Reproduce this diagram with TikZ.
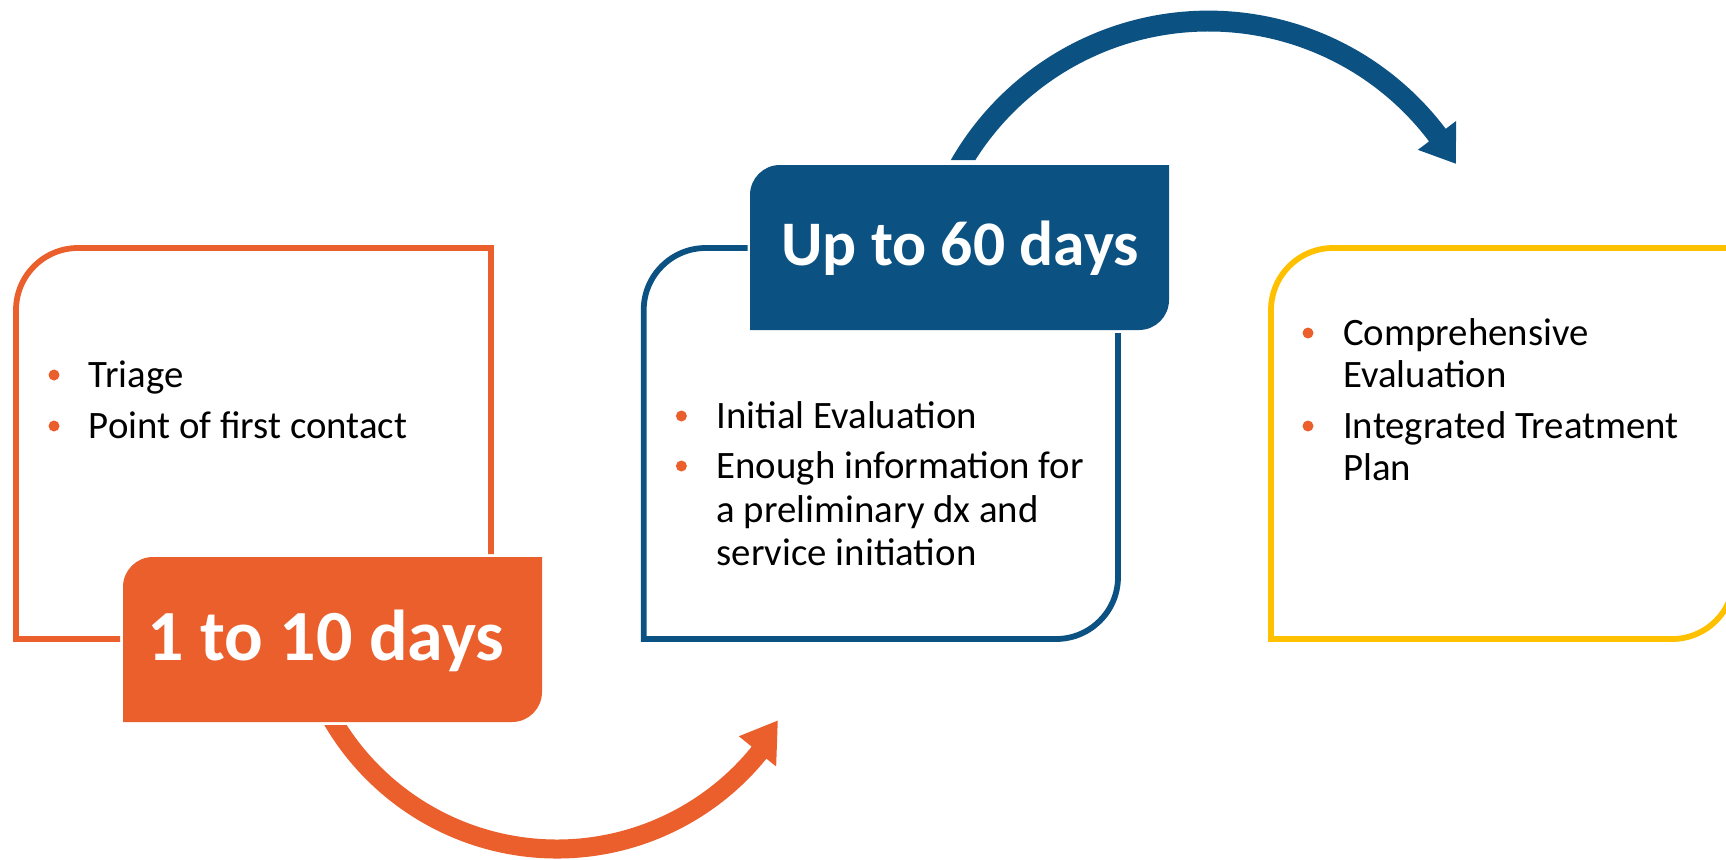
\documentclass[tikz,border=0pt]{standalone}
\usepackage{fontspec}
\setmainfont{Carlito}
\usetikzlibrary{calc}
\definecolor{orng}{RGB}{234,95,44}
\definecolor{navy}{RGB}{11,81,130}
\definecolor{gold}{RGB}{255,192,0}
\begin{document}
\begin{tikzpicture}[x=1pt,y=-1pt,
  body/.style={anchor=base west, inner sep=0pt, text=black,
    font=\fontsize{38.8}{43}\selectfont},
  tag/.style={anchor=base, inner sep=0pt, text=white,
    font=\bfseries\fontsize{#1}{#1}\selectfont},
  frame/.style={line width=5.8pt, line cap=butt, line join=miter},
  dot/.style={fill=orng}]
\useasboundingbox (0,0) rectangle (1726,859);
\clip (0,0) rectangle (1726,859);

% arc centres of the two curved arrows
\coordinate (oc) at (557,589);
\coordinate (bc) at (1208.6,307.5);

% ---- stage 1: orange frame and tag ----
\draw[frame, orng] (491,554) -- (491,248) -- (78,248)
  arc[start angle=270, end angle=180, radius=62] -- (16,639) -- (120,639);
\fill[orng] (123,722) -- (123,587) arc[start angle=180, end angle=270, radius=30]
  -- (542,557) -- (542,692) arc[start angle=0, end angle=90, radius=30] -- cycle;
\node[tag=72] (t1) at (326,660) {1 to 10 days};

\fill[dot] (54,375) circle[radius=5.5];
\fill[dot] (54,426) circle[radius=5.5];
\node[body] (a1) at (88.6,387) {Triage};
\node[body] (a2) at (88.6,438) {Point of first contact};

% ---- stage 2: blue frame and tag ----
\draw[frame, navy] (747.5,248) -- (705.7,248)
  arc[start angle=270, end angle=180, radius=62] -- (643.7,639) -- (1056,639)
  arc[start angle=90, end angle=0, radius=62] -- (1118,333);
\fill[navy] (750,330) -- (750,195) arc[start angle=180, end angle=270, radius=30]
  -- (1169,165) -- (1169,300) arc[start angle=0, end angle=90, radius=30] -- cycle;
\node[tag=63.5] (t2) at (960,265) {Up to 60 days};

\fill[dot] (681.4,416) circle[radius=5.5];
\fill[dot] (681.4,466) circle[radius=5.5];
\node[body] (b1) at (716.4,428) {Initial Evaluation};
\node[body] (b2) at (716.4,478) {Enough information for};
\node[body] (b3) at (716.4,522) {a preliminary dx and};
\node[body] (b4) at (716.4,565) {service initiation};

% ---- stage 3: gold frame ----
\draw[frame, gold] (1760,248) -- (1333,248)
  arc[start angle=270, end angle=180, radius=62] -- (1271,639) -- (1672,639)
  arc[start angle=90, end angle=0, radius=62] -- (1734,240);

\fill[dot] (1308,333) circle[radius=5.5];
\fill[dot] (1308,426) circle[radius=5.5];
\node[body] (c1) at (1343,345) {Comprehensive};
\node[body] (c2) at (1343,387) {Evaluation};
\node[body] (c3) at (1343,438) {Integrated Treatment};
\node[body] (c4) at (1343,480) {Plan};

% ---- curved arrows ----
\fill[orng] (324.3,725) arc[start angle=149.7, end angle=39, radius=269.5]
  -- ($(oc)+(39:282)$) -- ($(oc)+(30.8:257)$) -- ($(oc)+(39:234)$)
  -- ($(oc)+(39:250.5)$) arc[start angle=39, end angle=147.1, radius=250.5] -- cycle;
\fill[navy] (950.8,160) arc[start angle=-150.2, end angle=-37, radius=297]
  -- ($(bc)+(-37:310)$) -- ($(bc)+(-30.2:286)$) -- ($(bc)+(-37:262)$)
  -- ($(bc)+(-37:276)$) arc[start angle=-37, end angle=-147.7, radius=276] -- cycle;
\end{tikzpicture}
\end{document}
